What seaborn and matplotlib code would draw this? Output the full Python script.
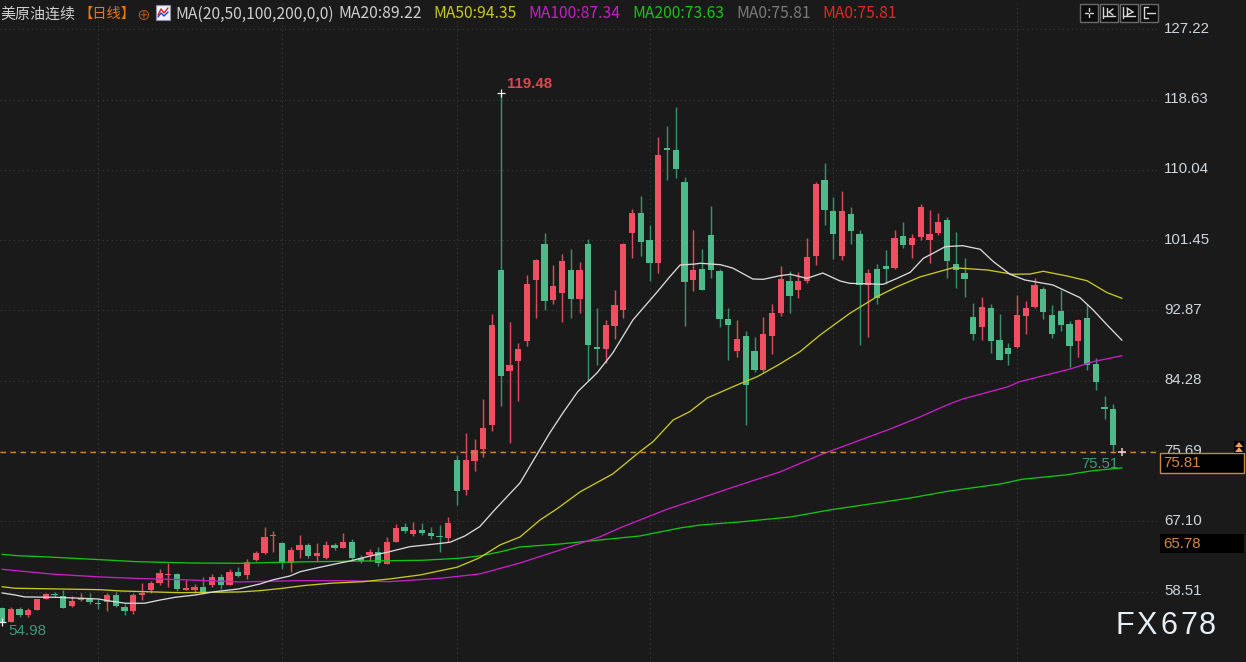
import matplotlib
matplotlib.use("Agg")
import matplotlib.pyplot as plt
import matplotlib.transforms as mtransforms
from matplotlib.patches import Rectangle, Polygon
from matplotlib.lines import Line2D
import seaborn as sns

# daily candles
opens = [56.48, 54.77, 56.35, 55.66, 56.23, 57.65, 58.22, 58.02, 56.72, 57.49,
         57.58, 57.09, 57.21, 58.06, 56.67, 56.15, 58.10, 58.68, 59.60, 60.51,
         60.67, 58.71, 58.68, 59.11, 59.32, 60.34, 59.32, 60.95, 60.54, 62.34,
         63.27, 65.27, 64.49, 62.05, 63.60, 64.17, 62.83, 62.62, 64.21, 63.88,
         64.61, 62.59, 62.95, 63.36, 61.93, 64.61, 66.45, 65.52, 66.01, 65.71,
         65.35, 65.10, 74.60, 70.93, 74.47, 75.98, 78.87, 97.81, 85.47, 86.69,
         89.10, 96.63, 101.03, 94.15, 95.04, 97.81, 94.27, 101.03, 88.44, 88.16,
         90.93, 92.93, 102.37, 104.81, 101.48, 98.70, 112.76, 112.48, 108.53, 96.59,
         97.93, 102.09, 97.69, 91.83, 87.88, 89.71, 87.88, 85.59, 89.75, 92.59,
         96.43, 95.37, 96.43, 99.49, 108.81, 104.99, 99.49, 104.66, 102.25, 96.02,
         97.93, 98.26, 98.09, 101.93, 100.87, 101.81, 101.48, 102.37, 103.92, 98.55,
         97.45, 92.11, 90.81, 93.21, 89.26, 88.28, 88.37, 92.15, 93.25, 95.49,
         92.28, 92.77, 91.21, 89.10, 91.98, 86.33, 81.11, 80.83]
closes = [54.84, 56.39, 55.62, 56.23, 57.58, 58.19, 58.10, 56.55, 57.40, 57.77,
          57.21, 57.00, 58.06, 56.72, 56.15, 58.06, 58.38, 59.57, 60.79, 60.67,
          58.80, 58.99, 59.11, 58.31, 60.34, 59.32, 60.95, 60.46, 62.17, 63.27,
          65.22, 65.43, 62.05, 63.60, 64.21, 62.83, 63.27, 64.21, 63.81, 64.61,
          62.59, 62.29, 63.39, 62.05, 64.61, 66.32, 65.96, 66.01, 65.64, 65.31,
          65.15, 66.94, 70.85, 74.56, 75.78, 78.54, 91.09, 84.82, 86.20, 88.16,
          96.14, 99.03, 93.99, 95.82, 98.91, 94.27, 97.81, 88.61, 88.20, 91.09,
          93.54, 101.03, 104.81, 101.27, 98.70, 111.86, 112.48, 110.19, 96.31, 97.81,
          95.37, 97.81, 91.86, 91.09, 89.38, 83.76, 85.59, 89.99, 92.59, 96.71,
          94.64, 96.43, 99.36, 108.36, 105.14, 102.25, 104.99, 102.54, 96.02, 97.48,
          94.43, 97.97, 101.76, 100.87, 101.76, 105.47, 102.21, 103.71, 98.88, 97.81,
          96.75, 89.99, 93.33, 89.10, 86.82, 87.59, 92.28, 93.21, 95.94, 92.64,
          90.03, 91.06, 88.53, 91.67, 86.24, 84.09, 80.86, 76.43]
highs = [56.63, 56.63, 56.63, 56.48, 57.65, 58.31, 58.50, 58.71, 58.02, 58.38,
         58.31, 57.61, 58.31, 58.50, 57.00, 58.38, 59.60, 59.77, 61.24, 62.05,
         60.83, 59.97, 59.45, 60.34, 60.63, 60.67, 61.24, 61.56, 62.46, 63.48,
         66.37, 65.96, 64.61, 64.00, 65.40, 64.49, 64.49, 64.74, 64.49, 65.71,
         64.91, 63.03, 63.68, 64.00, 65.22, 66.78, 66.94, 67.06, 66.94, 66.45,
         66.62, 67.67, 75.17, 77.93, 77.16, 82.05, 92.44, 119.48, 91.42, 88.93,
         97.20, 99.19, 102.37, 98.42, 99.77, 100.42, 98.75, 101.64, 93.21, 91.70,
         95.37, 101.15, 105.27, 106.85, 103.31, 114.03, 115.41, 117.69, 109.14, 102.70,
         100.38, 105.63, 97.93, 93.21, 91.70, 90.32, 89.59, 92.11, 93.66, 98.26,
         97.73, 97.60, 101.76, 108.53, 110.92, 106.70, 107.43, 105.47, 102.70, 97.93,
         98.55, 100.26, 102.70, 103.64, 102.21, 105.88, 105.14, 104.81, 104.33, 102.49,
         99.32, 93.82, 94.55, 93.66, 92.44, 88.93, 94.72, 93.99, 96.87, 95.77,
         93.50, 95.37, 91.54, 91.83, 93.62, 87.10, 82.38, 81.40]
lows = [54.80, 54.74, 55.45, 55.45, 56.23, 57.65, 57.82, 56.55, 56.67, 57.40,
        57.00, 56.39, 56.15, 56.67, 55.66, 55.82, 57.49, 58.38, 59.36, 59.04,
        58.63, 58.71, 58.31, 58.31, 59.04, 58.80, 59.32, 60.26, 60.02, 62.29,
        63.11, 63.39, 61.28, 60.95, 62.62, 62.59, 62.22, 62.50, 63.56, 63.81,
        62.29, 62.05, 62.29, 61.68, 61.93, 64.61, 65.71, 65.31, 65.40, 64.98,
        63.39, 64.61, 69.10, 70.32, 73.25, 74.93, 78.10, 81.19, 76.64, 81.81,
        88.49, 91.98, 92.93, 93.66, 91.42, 91.98, 92.52, 84.25, 86.20, 86.49,
        89.38, 91.98, 99.32, 99.52, 96.47, 97.48, 108.81, 109.09, 90.97, 95.25,
        95.33, 96.87, 90.88, 86.82, 87.22, 78.87, 85.39, 85.39, 87.55, 92.19,
        92.59, 94.43, 96.19, 98.42, 103.31, 99.19, 99.03, 101.03, 88.65, 89.66,
        93.66, 96.07, 97.97, 100.54, 99.32, 101.48, 98.63, 102.09, 96.87, 95.65,
        94.55, 89.26, 89.26, 87.71, 86.82, 86.20, 88.32, 89.99, 93.13, 91.86,
        89.54, 90.32, 85.92, 87.22, 85.59, 83.15, 79.64, 75.42]

# moving averages, sampled where the curves bend
ma20_days = [0, 1.5, 2.6, 6.1, 11, 12.3, 14.1, 16.3, 18.1, 19.8, 22.1, 24.3, 27, 29.5, 30.9, 32.9,
             34.1, 35.8, 38.1, 39.8, 42.1, 44.3, 46.6, 49.5, 51.2, 52.9, 54.6, 56.3, 59.2, 61.1,
             62.6, 64.1, 65.8, 68, 69.8, 72.1, 74.9, 76.3, 77.5, 79.2, 79.8, 82.1, 83.5, 85.8,
             87, 88.9, 90.1, 92, 93.8, 95.8, 96.9, 100.7, 102.3, 103.8, 105.3, 106.4, 107.8,
             109.8, 111.8, 113.3, 115.2, 116.9, 120.1, 123.2, 124.7, 126.3, 128]
ma20 = [58.35, 58.10, 57.86, 57.82, 57.61, 57.37, 57.09, 57.09, 57.49, 57.82, 58.10, 58.50, 58.83,
        59.45, 59.93, 60.42, 60.95, 61.36, 61.89, 62.26, 62.87, 63.39, 64.00, 64.33, 64.54, 65.31,
        66.45, 68.49, 71.79, 75.21, 77.90, 80.34, 82.94, 85.23, 87.67, 91.70, 95.16, 96.96, 98.42,
        98.54, 98.63, 98.46, 98.05, 96.71, 96.67, 97.11, 97.28, 96.79, 97.44, 96.46, 96.18, 96.06,
        96.79, 97.53, 99.24, 99.85, 100.66, 100.78, 100.34, 98.83, 97.29, 96.59, 95.98, 94.43,
        92.93, 91.09, 89.22]
ma50_days = [0, 1.5, 11.2, 13.5, 20.3, 27.2, 29.5, 32.1, 34.4, 37.5, 41.3, 44.3, 47.8, 50.1, 52,
             53.8, 54.6, 56.9, 59.2, 61.5, 63.4, 66.1, 69.8, 72.9, 74.4, 76.7, 78.6, 80.6, 84,
             86.3, 88.7, 91.2, 93.5, 96.9, 100, 102.3, 104.9, 108.7, 112.6, 115.5, 117.5, 119,
             121.7, 124, 126.3, 128]
ma50 = [59.11, 58.92, 58.75, 58.59, 58.38, 58.47, 58.63, 58.92, 59.24, 59.53, 59.73, 60.06, 60.55,
        61.07, 61.49, 62.29, 62.66, 64.21, 65.19, 67.27, 68.61, 70.72, 72.89, 75.61, 76.83, 79.48,
        80.50, 82.17, 83.76, 84.77, 86.20, 87.83, 89.87, 92.52, 94.55, 95.77, 96.96, 98.09, 97.81,
        97.29, 97.32, 97.65, 97.08, 96.50, 95.04, 94.35]
ma100_days = [0, 2.4, 5.5, 11.2, 15, 21.5, 27.2, 33.7, 38.6, 44.3, 50.1, 54.6, 59.2, 63.8, 68.3,
              70.6, 76.1, 79.8, 84.3, 88.9, 93.5, 98.1, 101.5, 104.9, 108, 109.8, 114.9, 116.3,
              122.1, 124.7, 128]
ma100 = [61.24, 60.99, 60.67, 60.30, 60.14, 59.93, 59.69, 59.85, 59.85, 59.73, 60.14, 60.67, 62.01,
         63.60, 65.19, 66.29, 68.61, 69.92, 71.54, 73.13, 75.21, 77.04, 78.38, 79.85, 81.32, 82.05,
         83.52, 84.16, 85.72, 86.61, 87.34]
ma200_days = [0, 1.7, 4.6, 10.4, 15.4, 21.5, 27.2, 33.3, 39.4, 48.1, 52.3, 54.6, 56.9, 59.2, 63.8,
              68.3, 72.9, 77.5, 79.8, 84.3, 90.1, 94.6, 99.2, 103.8, 108.3, 114.1, 116.6, 121.5,
              124.7, 128]
ma200 = [63.07, 62.90, 62.78, 62.46, 62.17, 62.01, 61.97, 62.13, 62.22, 62.34, 62.59, 62.87, 63.36,
         63.97, 64.33, 64.82, 65.31, 66.29, 66.65, 67.02, 67.63, 68.49, 69.22, 69.95, 70.81, 71.66,
         72.24, 72.76, 73.29, 73.63]

y_ticks = [127.22, 118.63, 110.04, 101.45, 92.87, 84.28, 75.69, 67.10, 58.51]
y_labels = ["127.22", "118.63", "110.04", "101.45", "92.87", "84.28", "75.69", "67.10", "58.51"]
month_starts = [11, 32, 52, 74, 95, 116]
last_day = 128
last_price = 75.51

BG = "#1a1a1a"
RED = "#ef4f60"
GREEN = "#50b98a"
ORANGE = "#c98a3c"

sns.set_theme(style="dark", rc={"axes.facecolor": BG, "figure.facecolor": BG})
plt.rcParams["font.family"] = ["Noto Sans CJK SC", "DejaVu Sans"]

fig = plt.figure(figsize=(12.46, 6.62), dpi=100)
ax = fig.add_axes([0, 0, 1157 / 1246, 1])
# pixel coordinates (top left origin) for the terminal's furniture
px = mtransforms.Affine2D().scale(1, -1).translate(0, 662)

days = list(range(len(opens)))
up = [c >= o for o, c in zip(opens, closes)]
wick_colors = ["#dc4a5a" if u else "#38906a" for u in up]
body_colors = [RED if u else GREEN for u in up]
ax.vlines(days, lows, highs, colors=wick_colors, linewidth=1.05, zorder=2)
ax.bar(days, [abs(c - o) for o, c in zip(opens, closes)], bottom=[min(o, c) for o, c in zip(opens, closes)],
       width=0.72, color=body_colors, linewidth=0, zorder=3)

sns.lineplot(x=ma200_days, y=ma200, color="#12c412", linewidth=0.95, ax=ax, zorder=4)
sns.lineplot(x=ma100_days, y=ma100, color="#c81ec8", linewidth=0.95, ax=ax, zorder=4)
sns.lineplot(x=ma50_days, y=ma50, color="#c8c81e", linewidth=0.95, ax=ax, zorder=4)
sns.lineplot(x=ma20_days, y=ma20, color="#d8d8d8", linewidth=0.95, ax=ax, zorder=4)

ax.set_xlim(-2 / 8.75, 132)
ax.set_ylim(49.91, 130.80)
ax.yaxis.tick_right()
ax.set_yticks(y_ticks, y_labels)
ax.set_xticks(month_starts, [""] * len(month_starts))
ax.tick_params(axis="both", length=0)
ax.tick_params(axis="y", pad=5, labelsize=10.8, labelcolor="#cfd6de")
# the terminal draws its scale labels a touch above the grid lines
lift = mtransforms.Affine2D().translate(0, 2)
for lab in ax.get_yticklabels():
    lab.set_family("Liberation Sans")
    lab.set_transform(lab.get_transform() + lift)
ax.grid(True, color="#3c3c3c", linewidth=0.8, linestyle=(0, (1, 3)))
ax.set_axisbelow(True)
ax.set_xlabel("")
ax.set_ylabel("")
sns.despine(ax=ax, left=True, bottom=True, right=True, top=True)

# last price line and its boxes
ax.axhline(last_price, color=ORANGE, linewidth=1.0, linestyle=(0, (4, 3.2)), zorder=5)
ax.plot([57, 0], [highs[57], lows[0]], linestyle="none", marker="+",
        color="#eeeeee", markersize=6, markeredgewidth=0.9, zorder=6)
ax.plot([last_day], [last_price], linestyle="none", marker="+",
        color="#f4c8c8", markersize=5.5, markeredgewidth=1.1, zorder=6)
fig.add_artist(Rectangle((1160, 453), 84, 20, transform=px, fc="black", ec=ORANGE, lw=1.0, zorder=10))
fig.add_artist(Rectangle((1160, 534), 84, 19, transform=px, fc="black", ec="none", zorder=10))
fig.add_artist(Rectangle((1234, 441), 10, 12, transform=px, fc="black", ec="none", zorder=10))
fig.add_artist(Polygon([(1235, 447), (1239, 442), (1243, 447)], transform=px, fc="#f0a050", ec="none", zorder=11))
fig.add_artist(Polygon([(1235, 452), (1239, 447), (1243, 452)], transform=px, fc="#f0a050", ec="none", zorder=11))


def label(x, y, s, color, size=11.3, weight="normal", family=None, z=12):
    fig.text(x, y, s, transform=px, color=color, fontsize=size, fontweight=weight, va="center", ha="left",
             family=family or ["Noto Sans CJK SC", "DejaVu Sans"], zorder=z)


label(1163, 463, "75.81", "#d8893a", size=10.8, family="Liberation Sans")
label(1163, 544, "65.78", "#d8893a", size=10.8, family="Liberation Sans")
label(507, 84, "119.48", "#e0474f", size=10.8, weight="bold", family="Liberation Sans")
label(8, 631, "54.98", "#3f9a78", size=10.9, family="Liberation Sans")
label(1081, 463.5, "75.51", "#3f9a78", size=10.7, family="Liberation Sans")
for wx, ch in zip([1116, 1136, 1160, 1180, 1199], "FX678"):
    label(wx, 626, ch, "#e8eef5", size=22, family="Liberation Sans")

# header row
label(0, 14, "美原油连续", "#cfcfcf", size=10.8)
label(78, 14, "【日线】", "#e07a1a", size=10.3)
label(136, 15, "⊕", "#c8601a", size=10)
label(175, 14, "MA(20,50,100,200,0,0)", "#cfcfcf")
label(338, 14, "MA20:89.22", "#cfcfcf")
label(433, 14, "MA50:94.35", "#c8c81e")
label(528, 14, "MA100:87.34", "#c81ec8")
label(632, 14, "MA200:73.63", "#18c418")
label(736, 14, "MA0:75.81", "#7a7a7a")
label(822, 14, "MA0:75.81", "#e02828")

# little MA icon
fig.add_artist(Rectangle((156, 5), 14, 15, transform=px, fc="#eef0fa", ec="#8890a8", lw=0.8, zorder=10))
fig.add_artist(Line2D([158, 161, 164, 168], [15, 9, 13, 8], transform=px, color="#e02020", lw=1, zorder=11))
fig.add_artist(Line2D([158, 161, 164, 168], [17, 13, 16, 12], transform=px, color="#2040d0", lw=1, zorder=11))

# toolbar buttons
for bx in [1080, 1100, 1120, 1140]:
    fig.add_artist(Rectangle((bx, 4), 18, 17.5, transform=px, fc="#0c0c0c", ec="#6a6a6a", lw=1, zorder=10))
for xs, ys in [([1085, 1088], [12.5, 12.5]), ([1090, 1093], [12.5, 12.5]), ([1089, 1089], [8, 11]), ([1089, 1089], [14, 17]),
               ([1103, 1103], [7, 18]), ([1103, 1115], [16, 16]), ([1107, 1107], [8, 15]), ([1113, 1109], [9, 12]),
               ([1109, 1113], [12, 15]), ([1123, 1123], [7, 18]), ([1123, 1135], [16, 16]), ([1127, 1127], [8, 15]),
               ([1127, 1133], [8, 12]), ([1133, 1127], [12, 15]), ([1144, 1144], [7, 18]), ([1144, 1148], [7, 7]),
               ([1144, 1148], [18, 18]), ([1147, 1155], [12.5, 12.5])]:
    fig.add_artist(Line2D(xs, ys, transform=px, color="#d8d8d8", lw=1, zorder=11))

fig.savefig("out.png", dpi=100, facecolor=BG)
